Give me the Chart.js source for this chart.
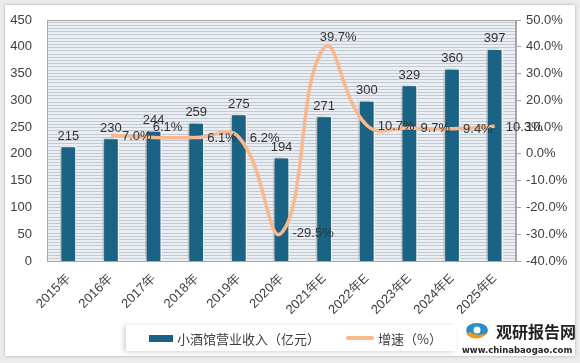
<!DOCTYPE html>
<html>
<head>
<meta charset="utf-8">
<script src="https://cdn.jsdelivr.net/npm/chart.js@4.4.0/dist/chart.umd.min.js"></script>
<style>
  body { margin: 0; background: #d9d9d9; }
  #wrap { position: relative; width: 580px; height: 363px; background: #ececec; }
  #frame { position: absolute; left: 5px; top: 5px; width: 570px; height: 351px; background: #fff; box-shadow: 0 0 3px #aaa; }
  #c { position: absolute; left: 0; top: 0; }
  #legend { position: absolute; left: 126px; top: 325px; width: 330px; height: 26px; background: #fff;
    box-shadow: -2px 1px 5px rgba(0,0,0,0.18); font: 13px "Noto Sans CJK SC", sans-serif; color: #404040;
    display: flex; align-items: center; white-space: nowrap; }
  .sw { display: inline-block; width: 24px; height: 7px; background: #1b6384; margin: 0 4px 0 23px; }
  .ln { display: inline-block; width: 28px; height: 4px; border-radius: 2px; background: #f8b990; margin: 0 4px 0 26px; }
  #logo { position: absolute; left: 462px; top: 320px; width: 116px; height: 36px; white-space: nowrap; }
  #logo .t { position: absolute; left: 34px; top: 0; font: bold 16px "Noto Sans CJK SC", sans-serif; color: #222; line-height: 22px; }
  #logo .u { position: absolute; left: 0; top: 25px; font: bold 8.5px "DejaVu Sans", sans-serif; color: #222; }
  #logo .i { position: absolute; left: 2px; top: 2px; width: 26px; height: 20px; }
</style>
</head>
<body>
<div id="wrap">
  <div id="frame"></div>
  <canvas id="c" width="580" height="363"></canvas>
  <div id="legend"><span class="sw"></span>小酒馆营业收入（亿元）<span class="ln"></span>增速（%）</div>
  <div id="logo">
    <svg class="i" viewBox="0 0 26 20"><ellipse cx="13" cy="8" rx="11" ry="7" fill="#2a8fc8"/><path d="M2 12 Q13 22 25 10 Q14 16 6 10Z" fill="#f39a1e"/><circle cx="13" cy="8" r="3.5" fill="#fff"/></svg>
    <span class="t">观研报告网</span>
    <span class="u">www.chinabaogao.com</span>
  </div>
</div>
<script>
const years = ["2015年", "2016年", "2017年", "2018年", "2019年", "2020年", "2021年E", "2022年E", "2023年E", "2024年E", "2025年E"];
const revenue = [215, 230, 244, 259, 275, 194, 271, 300, 329, 360, 397];
const growth = [null, 7.0, 6.1, 6.1, 6.2, -29.5, 39.7, 10.7, 9.7, 9.4, 10.3];
const growthLabelPos = [null, "right", "above", "right", "right", "right", "above", "right", "right", "right", "right"];

const font = { family: "Liberation Sans, Arial, sans-serif", size: 13 };
const textColor = "#404040";

// plot background with thin horizontal stripes, shadow behind bars
const plotBg = {
  id: "plotBg",
  beforeDraw(chart) {
    const { ctx, chartArea: a } = chart;
    ctx.save();
    ctx.fillStyle = "#e9eff4";
    ctx.fillRect(a.left, a.top, a.right - a.left, a.bottom - a.top);
    ctx.strokeStyle = "#c3c9cf";
    ctx.lineWidth = 1;
    for (let y = a.top + 1.5; y < a.bottom; y += 3.2) {
      ctx.beginPath();
      ctx.moveTo(a.left, Math.round(y) + 0.5);
      ctx.lineTo(a.right, Math.round(y) + 0.5);
      ctx.stroke();
    }
    ctx.strokeStyle = "#a6a6a6";
    ctx.strokeRect(a.left + 0.5, a.top + 0.5, a.right - a.left - 1, a.bottom - a.top);
    ctx.restore();
  },
  beforeDatasetDraw(chart, args) {
    if (args.meta.type === "bar") {
      chart.ctx.save();
      chart.ctx.shadowColor = "rgba(0,0,0,0.35)";
      chart.ctx.shadowBlur = 6;
      chart.ctx.shadowOffsetX = -3;
    }
  },
  afterDatasetDraw(chart, args) {
    if (args.meta.type === "bar") chart.ctx.restore();
  }
};

// value labels
const valueLabels = {
  id: "valueLabels",
  afterDatasetsDraw(chart) {
    const ctx = chart.ctx;
    ctx.save();
    ctx.font = "13px " + font.family;
    ctx.fillStyle = "#333";
    chart.getDatasetMeta(1).data.forEach((bar, i) => {
      ctx.textAlign = "center";
      ctx.textBaseline = "bottom";
      ctx.fillText(revenue[i], bar.x, bar.y - 3);
    });
    chart.getDatasetMeta(0).data.forEach((pt, i) => {
      if (growth[i] === null) return;
      const txt = growth[i].toFixed(1) + "%";
      if (growthLabelPos[i] === "above") {
        ctx.textAlign = "center";
        ctx.textBaseline = "bottom";
        ctx.fillText(txt, pt.x + 14, pt.y - 4);
      } else {
        ctx.textAlign = "left";
        ctx.textBaseline = "middle";
        ctx.fillText(txt, pt.x + 11, pt.y + 1);
      }
    });
    ctx.restore();
  }
};

new Chart(document.getElementById("c"), {
  data: {
    labels: years,
    datasets: [
      {
        type: "line",
        label: "增速（%）",
        data: growth,
        yAxisID: "y1",
        borderColor: "#f8b990",
        borderWidth: 3.5,
        pointRadius: 0,
        tension: 0.45,
        order: 0
      },
      {
        type: "bar",
        label: "小酒馆营业收入（亿元）",
        data: revenue,
        yAxisID: "y",
        backgroundColor: "#1b6384",
        borderColor: "#ffffff",
        borderWidth: 1.5,
        categoryPercentage: 1,
        barPercentage: 0.39,
        order: 1
      }
    ]
  },
  options: {
    responsive: false,
    animation: false,
    layout: { padding: { left: 6, right: 8, top: 20, bottom: 0 } },
    plugins: { legend: { display: false }, tooltip: { enabled: false } },
    scales: {
      x: {
        grid: { display: false },
        border: { display: false },
        ticks: { font: font, color: textColor, minRotation: 45, maxRotation: 45, padding: 2 },
        afterFit(s) { s.height = 102; }
      },
      y: {
        min: 0, max: 450,
        grid: { display: false },
        border: { display: false },
        ticks: { stepSize: 50, font: font, color: textColor, padding: 7 },
        afterFit(s) { s.width = 41; }
      },
      y1: {
        position: "right",
        min: -40, max: 50,
        grid: { drawOnChartArea: false, drawTicks: true, tickLength: 5, color: "#a6a6a6" },
        border: { color: "#a6a6a6" },
        ticks: { stepSize: 10, font: font, color: textColor, padding: 5, callback: v => v.toFixed(1) + "%" },
        afterFit(s) { s.width = 56; }
      }
    }
  },
  plugins: [plotBg, valueLabels]
});
</script>
</body>
</html>
